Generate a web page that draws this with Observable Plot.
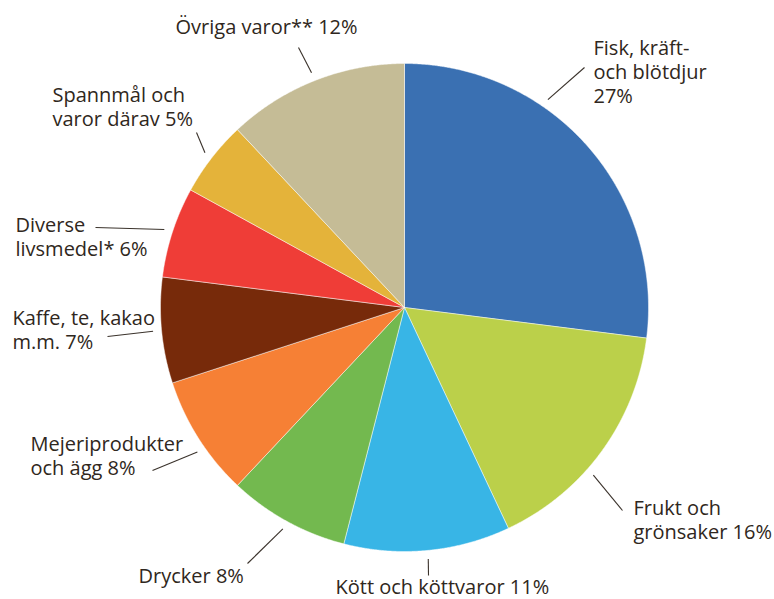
<!DOCTYPE html>
<html><head><meta charset="utf-8">
<script src="https://cdn.jsdelivr.net/npm/d3@7"></script>
<script src="https://cdn.jsdelivr.net/npm/@observablehq/plot@0.6"></script>
<style>body{margin:0;background:#fff}</style></head>
<body><div id="chart"></div>
<script>
// ---- data ----
const categories = ["Fisk, kräft- och blötdjur", "Frukt och grönsaker", "Kött och köttvaror", "Drycker", "Mejeriprodukter och ägg", "Kaffe, te, kakao m.m.", "Diverse livsmedel*", "Spannmål och varor därav", "Övriga varor**"];
const labels = ["Fisk, kräft-\noch blötdjur\n27%", "Frukt och\ngrönsaker 16%", "Kött och köttvaror 11%", "Drycker 8%", "Mejeriprodukter\noch ägg 8%", "Kaffe, te, kakao\nm.m. 7%", "Diverse\nlivsmedel* 6%", "Spannmål och\nvaror därav 5%", "Övriga varor** 12%"];
const shares = [27, 16, 11, 8, 8, 7, 6, 5, 12];
const colors = ["#3a70b2", "#bbd04a", "#38b5e6", "#73b94f", "#f68035", "#772a0a", "#ef3d37", "#e4b33a", "#c5bc96"];

// ---- layout (pixels) ----
const W = 774, H = 599, cx = 404, cy = 307, R = 244;
const labelX = [593, 633, 335, 138, 30, 12, 15, 52, 175];
const labelY = [102, 538, 593, 582, 474, 348, 255, 125, 33];
const leaderOutX = [584, 622, 428, 247, 152, 107, 95, 196, 298];
const leaderOutY = [67, 510, 575, 563, 470, 336, 227, 132, 47];
const leaderShift = [-14, 5.6, 0, 0, -2.5, 0, 0, 0, 0];

const pie = d3.pie().sort(null).value(d => d)(shares);
const slicePts = [];
pie.forEach((p, i) => {
  const a0 = p.startAngle, a1 = p.endAngle;
  const n = Math.max(2, Math.ceil((a1 - a0) / 0.004));
  slicePts.push({x: cx, y: cy, k: categories[i]});
  for (let j = 0; j <= n; j++) {
    const a = a0 + (a1 - a0) * j / n;
    slicePts.push({x: cx + R * Math.sin(a), y: cy - R * Math.cos(a), k: categories[i]});
  }
  slicePts.push({x: cx, y: cy, k: categories[i]});
});

const leaders = pie.map((p, i) => {
  const a = (p.startAngle + p.endAngle) / 2 + leaderShift[i] * Math.PI / 180;
  const r = R * 1.035;
  return {x1: cx + r * Math.sin(a), y1: cy - r * Math.cos(a), x2: leaderOutX[i], y2: leaderOutY[i]};
});
const labelData = labels.map((t, i) => ({t, x: labelX[i], y: labelY[i]}));

const chart = Plot.plot({
  width: W, height: H, margin: 0,
  x: {domain: [0, W], range: [0, W], axis: null},
  y: {domain: [0, H], range: [0, H], axis: null},
  color: {domain: categories, range: colors},
  style: {fontFamily: "Open Sans", background: "#fff"},
  marks: [
    Plot.line(slicePts, {x: "x", y: "y", z: "k", fill: "k", stroke: "#ffffff", strokeWidth: 0.6, strokeOpacity: 0.8}),
    Plot.link(leaders, {x1: "x1", y1: "y1", x2: "x2", y2: "y2", stroke: "#3a322b", strokeWidth: 1.1}),
    Plot.text(labelData, {x: "x", y: "y", text: "t", textAnchor: "start", lineAnchor: "bottom", fontSize: 20, lineHeight: 24 / 20, fill: "#2f2720"})
  ]
});
document.getElementById("chart").append(chart);
</script>
</body></html>
